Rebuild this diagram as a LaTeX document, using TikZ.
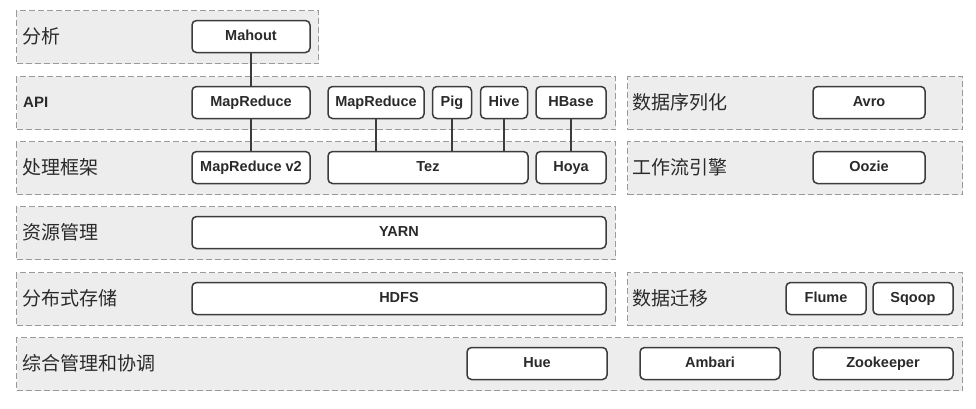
\documentclass[tikz,border=0pt]{standalone}
\usepackage{fontspec}
\setmainfont{Liberation Sans}
\newfontfamily\cjk{Noto Sans CJK SC}
\usetikzlibrary{positioning}
\definecolor{layerfill}{HTML}{EDEDED}
\definecolor{dashgray}{HTML}{9A9A9A}
\definecolor{boxgray}{HTML}{3C3C3C}
\definecolor{textgray}{HTML}{2A2A2A}
\tikzset{
  x=1pt, y=-1pt, line join=round,
  layer/.style={
    draw=dashgray, fill=layerfill, dash pattern=on 6pt off 3pt,
    line width=1.2pt, anchor=north west, inner sep=0pt, minimum height=53pt
  },
  comp/.style={
    draw=boxgray, fill=white, rounded corners=4.5pt, line width=1.5pt,
    minimum height=32pt, inner sep=0pt, text=textgray,
    text height=10.5pt, text depth=3pt,
    font=\bfseries\fontsize{14.5}{18}\selectfont
  },
  lbl/.style={anchor=west, inner sep=0pt, text=textgray, font=\cjk\fontsize{19}{22}\selectfont},
  link/.style={draw=boxgray, line width=1.5pt}
}

\begin{document}
\begin{tikzpicture}
    \useasboundingbox (0,0) rectangle (976,408);

    % layers
    \node[layer, minimum width=302pt] (ana)   at (16,10)  {};
    \node[layer, minimum width=599pt] (api)   at (16,76)  {};
    \node[layer, minimum width=335pt] (ser)   at (627,76) {};
    \node[layer, minimum width=599pt] (proc)  at (16,141) {};
    \node[layer, minimum width=335pt] (flow)  at (627,141) {};
    \node[layer, minimum width=599pt] (res)   at (16,206) {};
    \node[layer, minimum width=599pt] (store) at (16,272) {};
    \node[layer, minimum width=335pt] (mig)   at (627,272) {};
    \node[layer, minimum width=946pt] (mgmt)  at (16,337) {};

    % layer labels
    \node[lbl] (anaL)   at (22,36.5)  {分析};
    \node[lbl, font=\bfseries\fontsize{15}{18}\selectfont] (apiL) at (23,102.5) {API};
    \node[lbl] (serL)   at (632,102.5) {数据序列化};
    \node[lbl] (procL)  at (22,167.5) {处理框架};
    \node[lbl] (flowL)  at (632,167.5) {工作流引擎};
    \node[lbl] (resL)   at (22,232.5) {资源管理};
    \node[lbl] (storeL) at (22,298.5) {分布式存储};
    \node[lbl] (migL)   at (632,298.5) {数据迁移};
    \node[lbl] (mgmtL)  at (22,363.5) {综合管理和协调};

    % components
    \node[comp, minimum width=118pt] (mahout) at (251,36.5)  {Mahout};
    \node[comp, minimum width=118pt] (mr)     at (251,102.5) {MapReduce};
    \node[comp, minimum width=96pt]  (mrB)    at (376,102.5) {MapReduce};
    \node[comp, minimum width=39pt]  (pig)    at (452,102.5) {Pig};
    \node[comp, minimum width=47pt]  (hive)   at (504,102.5) {Hive};
    \node[comp, minimum width=70pt]  (hbase)  at (571,102.5) {HBase};
    \node[comp, minimum width=112pt] (avro)   at (869,102.5) {Avro};
    \node[comp, minimum width=118pt] (mrv2)   at (251,167.5) {MapReduce v2};
    \node[comp, minimum width=200pt] (tez)    at (428,167.5) {Tez};
    \node[comp, minimum width=70pt]  (hoya)   at (571,167.5) {Hoya};
    \node[comp, minimum width=112pt] (oozie)  at (869,167.5) {Oozie};
    \node[comp, minimum width=414pt] (yarn)   at (399,232.5) {YARN};
    \node[comp, minimum width=414pt] (hdfs)   at (399,298.5) {HDFS};
    \node[comp, minimum width=80pt]  (flume)  at (826,298.5) {Flume};
    \node[comp, minimum width=80pt]  (sqoop)  at (913,298.5) {Sqoop};
    \node[comp, minimum width=140pt] (hue)    at (537,363.5) {Hue};
    \node[comp, minimum width=140pt] (ambari) at (710,363.5) {Ambari};
    \node[comp, minimum width=140pt] (zk)     at (883,363.5) {Zookeeper};

    % links
    \draw[link] (mahout) -- (mr);
    \draw[link] (mr) -- (mrv2);
    \draw[link] (mrB.south) -- (mrB.south |- tez.north);
    \draw[link] (pig.south) -- (pig.south |- tez.north);
    \draw[link] (hive.south) -- (hive.south |- tez.north);
    \draw[link] (hbase) -- (hoya);
\end{tikzpicture}
\end{document}
